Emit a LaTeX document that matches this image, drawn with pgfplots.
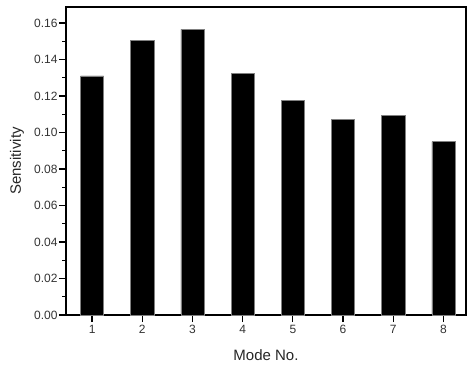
\documentclass[border=0pt]{standalone}
\usepackage{pgfplots}
\pgfplotsset{compat=1.18}
\usepackage{fontspec}
\setmainfont{Liberation Sans}
\begin{document}
\begin{tikzpicture}[x=1pt,y=1pt]
\useasboundingbox (0,0) rectangle (467,368);
\begin{axis}[
  at={(66pt,53pt)}, anchor=south west,
  scale only axis, width=400pt, height=308pt,
  xmin=0.48, xmax=8.45,
  ymin=0, ymax=0.1688,
  ybar, bar width=0.46,
  xtick={1,2,3,4,5,6,7,8},
  ytick={0,0.02,0.04,0.06,0.08,0.10,0.12,0.14,0.16},
  minor y tick num=1,
  xtick pos=bottom, ytick pos=left,
  tick align=outside,
  major tick length=7pt, minor tick length=3.5pt,
  every tick/.style={black, line width=1.2pt},
  axis line style={line width=1.3pt},
  /pgf/number format/assume math mode=true,
  yticklabel style={/pgf/number format/fixed, /pgf/number format/zerofill, /pgf/number format/precision=2, font=\fontsize{12}{14}\selectfont, text=black!80, xshift=2pt},
  xticklabel style={font=\fontsize{12}{14}\selectfont, text=black!80},
  scaled y ticks=false,
  xlabel={Mode No.}, ylabel={Sensitivity},
  label style={font=\fontsize{15}{17}\selectfont, text=black!85},
  xlabel style={at={(axis description cs:0.5,0)}, anchor=center, yshift=-40pt},
  ylabel style={at={(axis description cs:0,0.5)}, anchor=center, yshift=49pt},
]
\addplot[fill=black, draw=gray, line width=0.5pt] coordinates {
(1,0.131) (2,0.1507) (3,0.1565) (4,0.1324) (5,0.1176) (6,0.1074) (7,0.1092) (8,0.0950)
};
\end{axis}
\end{tikzpicture}
\end{document}
